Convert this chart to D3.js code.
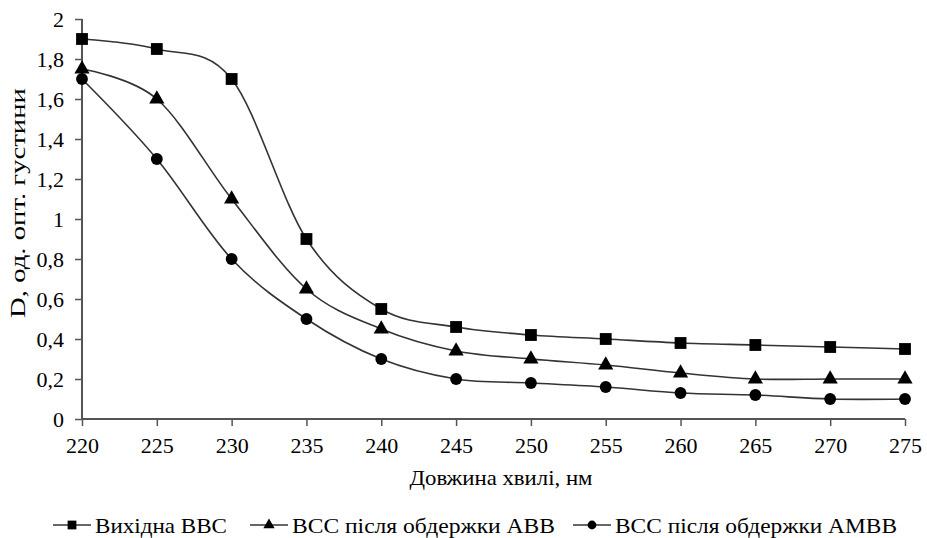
<!DOCTYPE html>
<html><head><meta charset="utf-8">
<script src="https://cdn.jsdelivr.net/npm/d3@7"></script>
</head><body style="margin:0"><svg id="c" width="927" height="538"></svg>
<script>
const wavelengths = [220,225,230,235,240,245,250,255,260,265,270,275];
const seriesNames = ["Вихідна ВВС","ВСС після обдержки АВВ","ВСС після обдержки АМВВ"];
const seriesSquare = [1.9,1.85,1.7,0.9,0.55,0.46,0.42,0.40,0.38,0.37,0.36,0.35];
const seriesTriangle = [1.75,1.6,1.1,0.65,0.45,0.34,0.30,0.27,0.23,0.20,0.20,0.20];
const seriesCircle = [1.7,1.3,0.8,0.5,0.3,0.2,0.18,0.16,0.13,0.12,0.10,0.10];
const yTicks = [0,0.2,0.4,0.6,0.8,1,1.2,1.4,1.6,1.8,2];
const xTitle = "Довжина хвилі, нм";
const yTitle = "D, од. опт. густини";

const FONT = "Liberation Serif, Times New Roman, serif";
const svg = d3.select("#c");
const x = d3.scaleLinear().domain([220,275]).range([82,905]);
const y = d3.scaleLinear().domain([0,2]).range([419,19]);
const fmt = v => String(v).replace(".", ",");

const series = [
  {name: seriesNames[0], vals: seriesSquare, sym: d3.symbolSquare, size: 140, lw: 132},
  {name: seriesNames[1], vals: seriesTriangle, sym: d3.symbolTriangle, size: 100, lw: 263},
  {name: seriesNames[2], vals: seriesCircle, sym: d3.symbolCircle, size: 110, lw: 282}
];

// axes
const ax = svg.append("g").attr("transform", `translate(0,${y(0)})`)
  .call(d3.axisBottom(x).tickValues(wavelengths).tickSize(7).tickPadding(11).tickFormat(d=>d));
const ay = svg.append("g").attr("transform", `translate(${x(220)},0)`)
  .call(d3.axisLeft(y).tickValues(yTicks).tickSize(7).tickPadding(11).tickFormat(fmt));
[ax, ay].forEach(g => {
  g.attr("font-family", FONT).attr("font-size", 22);
  g.select(".domain").attr("stroke","#555").attr("stroke-width",2);
  g.selectAll(".tick line").attr("stroke","#555").attr("stroke-width",1.5);
  g.selectAll(".tick text").attr("font-family", FONT).attr("font-size", 22).attr("fill","#000");
});
ax.select(".domain").attr("d", `M${x(220)},0H${x(275)}`);
ay.select(".domain").attr("d", `M0,${y(0)}V${y(2)}`);

// lines
const line = d3.line().x((d,i)=>x(wavelengths[i])).y(d=>y(d)).curve(d3.curveCardinal.tension(0));
series.forEach(s => {
  svg.append("path").attr("d", line(s.vals)).attr("fill","none").attr("stroke","#333").attr("stroke-width",1.6);
});
series.forEach(s => {
  svg.append("g").selectAll("path").data(s.vals).join("path")
    .attr("transform",(d,i)=>`translate(${x(wavelengths[i])},${y(d)})`)
    .attr("d", d3.symbol().type(s.sym).size(s.size)).attr("fill","#000");
});

// titles
svg.append("text").attr("x", 501).attr("y", 485).attr("text-anchor","middle")
  .attr("font-family", FONT).attr("font-size", 22)
  .attr("textLength",183).attr("lengthAdjust","spacingAndGlyphs").text(xTitle);
svg.append("text").attr("transform","translate(25,203) rotate(-90)").attr("text-anchor","middle")
  .attr("font-family", FONT).attr("font-size", 22)
  .attr("textLength",230).attr("lengthAdjust","spacingAndGlyphs").text(yTitle);

// legend
const legX = [53, 250, 573];
series.forEach((s,i) => {
  const g = svg.append("g").attr("transform", `translate(${legX[i]},525)`);
  g.append("line").attr("x1",0).attr("x2",38).attr("stroke","#333").attr("stroke-width",1.6);
  g.append("path").attr("transform","translate(19,0)").attr("d", d3.symbol().type(s.sym).size(s.size*0.55)).attr("fill","#000");
  g.append("text").attr("x",42).attr("y",8).attr("font-family", FONT).attr("font-size", 22)
    .attr("textLength", s.lw).attr("lengthAdjust","spacingAndGlyphs").text(s.name);
});
</script></body></html>
